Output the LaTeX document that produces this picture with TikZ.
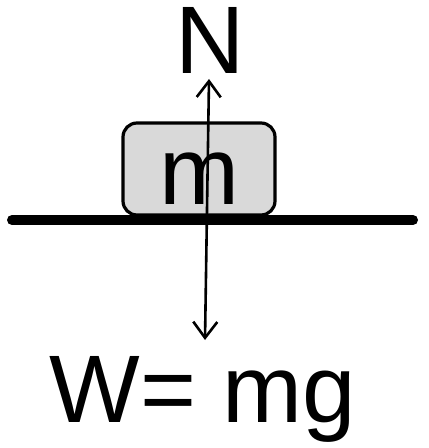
\documentclass[tikz,border=0pt]{standalone}
\usepackage{fontspec}
\setmainfont{Liberation Sans}
\usetikzlibrary{arrows.meta}

\tikzset{
  big/.style={font=\fontsize{48}{50}\selectfont, inner sep=0pt},
  block/.style={draw, line width=1.6pt, rounded corners=7pt, fill=black!15,
                minimum width=76pt, minimum height=46pt, inner sep=0pt},
  force/.style={line width=1.3pt, {Straight Barb[length=8pt,width=12pt]}-{Straight Barb[length=8pt,width=12pt]}}
}

\begin{document}
\begin{tikzpicture}[x=0.5pt, y=-0.5pt]
  \useasboundingbox (0,0) rectangle (428,448);
  % floor and block
  \node[block] (box) at (199,169) {};
  \draw[line width=5pt, line cap=round] (12,220) -- (413,220);
  \node[big, anchor=base] (mass) at (199,205) {m};
  % labels
  \node[big, anchor=base] (normal) at (210,74) {N};
  \node[big, anchor=base] (weight) at (203,422) {W= mg};
  \coordinate (up) at (209,79);
  \coordinate (down) at (205,340);
  \draw[force] (down) -- (up);
\end{tikzpicture}
\end{document}
